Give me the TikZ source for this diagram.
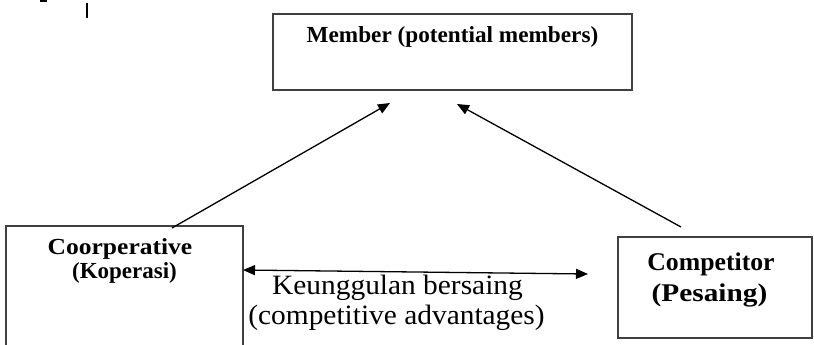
\documentclass[tikz,border=0pt]{standalone}
\usepackage{fontspec}
\setmainfont{Liberation Serif}
\usetikzlibrary{arrows.meta,calc}
\begin{document}
\begin{tikzpicture}[x=1bp,y=-1bp,
  boxframe/.style={draw=black!75,line width=1.8bp,inner sep=0,outer sep=0},
  lbl/.style={inner sep=0,anchor=base,text=black},
  headfont/.style={font=\bfseries\fontsize{23bp}{27bp}\selectfont},
  coopfont/.style={font=\bfseries\fontsize{23bp}{27bp}\selectfont},
  compfont/.style={font=\bfseries\fontsize{25.5bp}{29bp}\selectfont},
  bodyfont/.style={font=\fontsize{28bp}{30bp}\selectfont},
  link/.style={line width=1.3bp,-{Triangle[length=12bp,width=10bp]}},
]
\useasboundingbox (0,0) rectangle (814,344);
\clip (0,0) rectangle (814,344);

% remnants of the line above the figure
\draw[line width=1.8bp] (87,3) -- (87,18);
\fill (40,0) rectangle (47,2);

% boxes
\node[boxframe, minimum width=359bp, minimum height=76bp] (member) at (452.5,52) {};
\node[boxframe, minimum width=237bp, minimum height=124bp] (coop) at (124.5,288) {};
\node[boxframe, minimum width=194bp, minimum height=101bp] (comp) at (715,287.5) {};

% box labels
\node[lbl,headfont] (membertext) at (452.5,42) {\scalebox{1.01}[1]{Member (potential members)}};
\node[lbl,coopfont] (cooptext) at (120,254) {\scalebox{1.11}[1]{Coorperative}};
\node[lbl,coopfont] (cooptext2) at (124.5,278) {\scalebox{1.0}[1]{(Koperasi)}};
\node[lbl,compfont] (comptext) at (711,270) {\scalebox{1.01}[1]{Competitor}};
\node[lbl,compfont] (comptext2) at (709.5,301) {\scalebox{1.15}[1]{(Pesaing)}};

% relation label
\node[lbl,bodyfont] (adv) at (397.5,294) {\scalebox{1.05}[1]{Keunggulan bersaing}};
\node[lbl,bodyfont] (adv2) at (396.5,324) {\scalebox{1.05}[1]{(competitive advantages)}};

% connectors
\draw[link] ($(coop.north west)+(166,2)$) -- ($(member.south west)+(117,13)$);
\draw[link] ($(comp.north west)+(63,-10)$) -- ($(member.south west)+(184,14)$);
\draw[line width=1.3bp,{Triangle[length=12bp,width=10bp]}-{Triangle[length=12bp,width=10bp]}]
  ($(coop.north east)+(0,44)$) -- ($(comp.north west)+(-30,37)$);
\end{tikzpicture}
\end{document}
